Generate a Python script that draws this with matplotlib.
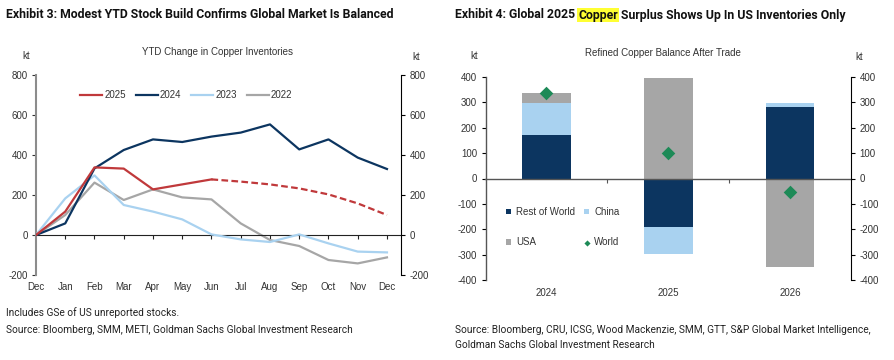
import matplotlib.pyplot as plt
import matplotlib.transforms as mtransforms
import numpy as np

# ---- Exhibit 3 data (kt, YTD change) ----
months = ["Dec", "Jan", "Feb", "Mar", "Apr", "May", "Jun",
          "Jul", "Aug", "Sep", "Oct", "Nov", "Dec"]
y2025_actual = [0, 117, 338, 332, 228, 253, 278]
y2025_forecast = [278, 267, 253, 233, 203, 158, 100]
y2024 = [0, 58, 333, 425, 478, 465, 492, 512, 553, 428, 478, 387, 330]
y2023 = [0, 183, 298, 150, 117, 78, 3, -22, -35, 3, -42, -83, -87]
y2022 = [0, 100, 262, 175, 228, 188, 178, 58, -25, -55, -125, -142, -112]

# ---- Exhibit 4 data (kt) ----
years = ["2024", "2025", "2026"]
rest_of_world = [170, -190, 280]
china = [126, -106, 16]
usa = [40, 397, -348]
world = [335, 101, -52]

RED = "#c0393b"
NAVY = "#0c3560"
LBLUE = "#a9d2f0"
GREY = "#a6a6a6"
GREEN = "#1d8a57"
TXT = "#333333"

plt.rcParams['font.family'] = ['Liberation Sans', 'DejaVu Sans']
plt.rcParams['font.size'] = 7
plt.rcParams['axes.unicode_minus'] = False

fig = plt.figure(figsize=(8.94, 3.6), dpi=100)

head_font = ['Roboto', 'DejaVu Sans']
foot_font = ['Roboto', 'DejaVu Sans']
HEAD_SIZE = 8.8
FOOT_SIZE = 7.3


def px(x, y):
    return x / 894, 1 - y / 360


# ================= Left chart =================
ax1 = fig.add_axes([36 / 894, 1 - 275 / 360, 365 / 894, 200 / 360])
x = np.arange(len(months))
ax1.plot(x[:len(y2025_actual)], y2025_actual, color=RED, lw=1.6, label="2025", zorder=5)
ax1.plot(x[len(y2025_actual) - 1:], y2025_forecast, color=RED, lw=1.6, ls=(0, (3, 1.5)), zorder=5)
ax1.plot(x, y2024, color=NAVY, lw=1.6, label="2024", zorder=4)
ax1.plot(x, y2023, color=LBLUE, lw=1.6, label="2023", zorder=3)
ax1.plot(x, y2022, color=GREY, lw=1.6, label="2022", zorder=2)

ax1.set_xlim(0, 12.48)
ax1.set_ylim(-200, 800)
ax1.set_yticks([-200, 0, 200, 400, 600, 800])
ax1.spines['top'].set_visible(False)
ax1.spines['right'].set_visible(False)
ax1.spines['left'].set_color("#8c8c8c")
ax1.spines['left'].set_linewidth(1.5)
ax1.spines['bottom'].set_position(('data', 0))
ax1.spines['bottom'].set_color("#222222")
ax1.spines['bottom'].set_linewidth(0.8)
ax1.set_xticks(x[1:])
ax1.tick_params(axis='x', direction='out', length=3, color="#222222", labelbottom=False)
ax1.tick_params(axis='y', direction='out', length=3, color="#333333", labelcolor=TXT, pad=3)
trans1 = mtransforms.blended_transform_factory(ax1.transData, ax1.transAxes)
for i, m in enumerate(months):
    ax1.text(i, -0.06, m, transform=trans1, ha='center', va='center', color=TXT, fontsize=7)

ax1r = ax1.twinx()
ax1r.set_ylim(-200, 800)
ax1r.set_yticks([-200, 0, 200, 400, 600, 800])
for s in ['top', 'left', 'bottom']:
    ax1r.spines[s].set_visible(False)
ax1r.spines['right'].set_linewidth(0.8)
ax1r.tick_params(axis='y', direction='out', length=3, labelcolor=TXT, pad=3)

leg1 = ax1.legend(loc='center left', bbox_to_anchor=((80 - 36) / 365, 0.9), ncol=4, frameon=False,
                  handlelength=2.3, handletextpad=0.2, columnspacing=1.0, fontsize=7,
                  borderpad=0, borderaxespad=0)
for t in leg1.get_texts():
    t.set_color(TXT)

fig.text(*px(218, 52), "YTD Change in Copper Inventories", ha='center', va='center', color=TXT, fontsize=7)
fig.text(*px(26, 56), "kt", ha='center', va='center', color=TXT, fontsize=7)
fig.text(*px(416, 57), "kt", ha='center', va='center', color=TXT, fontsize=7)

fig.text(*px(6, 15), "Exhibit 3: Modest YTD Stock Build Confirms Global Market Is Balanced",
         ha='left', va='center', fontsize=HEAD_SIZE, fontweight='bold', family=head_font, color="#111111")
fig.text(*px(6, 313), "Includes GSe of US unreported stocks.", ha='left', va='center',
         fontsize=FOOT_SIZE, family=foot_font, color="#222222")
fig.text(*px(6, 330), "Source: Bloomberg, SMM, METI, Goldman Sachs Global Investment Research",
         ha='left', va='center', fontsize=FOOT_SIZE, family=foot_font, color="#222222")

# ================= Right chart =================
ax2 = fig.add_axes([485.5 / 894, 1 - 280 / 360, 365.5 / 894, 203 / 360])
xb = np.arange(len(years))
pos_base = np.zeros(len(years))
neg_base = np.zeros(len(years))
for vals, col, lab in [(rest_of_world, NAVY, "Rest of World"), (china, LBLUE, "China"), (usa, GREY, "USA")]:
    v = np.array(vals, dtype=float)
    base = np.where(v >= 0, pos_base, neg_base)
    ax2.bar(xb, v, bottom=base, width=0.4, color=col, label=lab, zorder=2)
    pos_base = pos_base + np.where(v > 0, v, 0)
    neg_base = neg_base + np.where(v < 0, v, 0)
ax2.scatter(xb, world, marker='D', s=48, color=GREEN, label="World", zorder=4, linewidths=0)

ax2.set_xlim(-0.5, 2.5)
ax2.set_ylim(-400, 400)
ax2.set_yticks(np.arange(-400, 401, 100))
ax2.spines['top'].set_visible(False)
ax2.spines['right'].set_visible(False)
ax2.spines['left'].set_color("#555555")
ax2.spines['left'].set_linewidth(1.0)
ax2.spines['bottom'].set_position(('data', 0))
ax2.spines['bottom'].set_color("#555555")
ax2.spines['bottom'].set_linewidth(1.0)
ax2.set_xticks([0.5, 1.5])
ax2.tick_params(axis='x', direction='out', length=3, color="#555555", labelbottom=False)
ax2.tick_params(axis='y', direction='out', length=3, labelcolor=TXT, pad=3)
trans2 = mtransforms.blended_transform_factory(ax2.transData, ax2.transAxes)
for i, yl in enumerate(years):
    ax2.text(i, -0.065, yl, transform=trans2, ha='center', va='center', color=TXT, fontsize=7)

ax2r = ax2.twinx()
ax2r.set_ylim(-400, 400)
ax2r.set_yticks(np.arange(-400, 401, 100))
for s in ['top', 'left', 'bottom']:
    ax2r.spines[s].set_visible(False)
ax2r.spines['right'].set_linewidth(0.8)
ax2r.tick_params(axis='y', direction='out', length=3, labelcolor=TXT, pad=3)

h, l = ax2.get_legend_handles_labels()
order = [l.index("Rest of World"), l.index("USA"), l.index("China"), l.index("World")]
leg2 = ax2.legend([h[i] for i in order], [l[i] for i in order], loc='upper left',
                  bbox_to_anchor=((506 - 485.5) / 365.5, 1 - (207 - 77) / 203), ncol=2,
                  frameon=False, fontsize=7, borderpad=0, borderaxespad=0,
                  handlelength=0.55, handleheight=0.55, handletextpad=0.5, columnspacing=0.9,
                  labelspacing=2.1, markerscale=0.45)
for t in leg2.get_texts():
    t.set_color(TXT)

fig.text(*px(663, 53), "Refined Copper Balance After Trade", ha='center', va='center', color=TXT, fontsize=7)
fig.text(*px(474, 56), "kt", ha='center', va='center', color=TXT, fontsize=7)
fig.text(*px(859, 57), "kt", ha='center', va='center', color=TXT, fontsize=7)

fig.text(*px(455, 330), "Source: Bloomberg, CRU, ICSG, Wood Mackenzie, SMM, GTT, S&P Global Market Intelligence,",
         ha='left', va='center', fontsize=FOOT_SIZE, family=foot_font, color="#222222")
fig.text(*px(455, 345), "Goldman Sachs Global Investment Research",
         ha='left', va='center', fontsize=FOOT_SIZE, family=foot_font, color="#222222")

# header with highlighted word
renderer = fig.canvas.get_renderer()
hx, hy = px(455, 15)
parts = [("Exhibit 4: Global 2025 ", None), ("Copper", "#ffff33"),
         (" Surplus Shows Up In US Inventories Only", None)]
cur = hx
for txt, bg in parts:
    t = fig.text(cur, hy, txt, ha='left', va='center', fontsize=HEAD_SIZE, fontweight='bold',
                 family=head_font, color="#111111")
    if bg:
        t.set_bbox(dict(facecolor=bg, edgecolor='none', pad=0.6))
    w = t.get_window_extent(renderer=renderer).width
    cur += w / fig.bbox.width

fig.savefig("out.png", dpi=100)
